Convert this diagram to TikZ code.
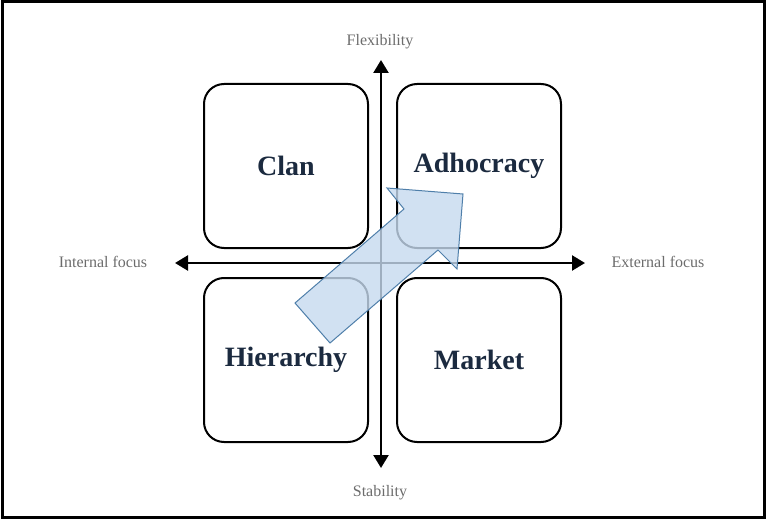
\documentclass[tikz,border=0pt]{standalone}
\usepackage{fontspec}
\setmainfont{Liberation Serif}
\usetikzlibrary{arrows.meta}
\definecolor{navy}{HTML}{1B2A3F}
\definecolor{fillb}{HTML}{C6DAEF}
\definecolor{edgeb}{HTML}{4F7FAA}
\begin{document}
\begin{tikzpicture}[x=1pt,y=-1pt,
  box/.style={draw=black,line width=2pt,rounded corners=20pt,minimum width=164pt,minimum height=164pt,fill=white,font=\bfseries\fontsize{28}{32}\selectfont,text=navy},
  axlab/.style={text=gray!85!black,font=\fontsize{16}{18}\selectfont},
  axis/.style={line width=2.5pt,-{Triangle[length=13pt,width=15pt]}}]
\useasboundingbox (0,0) rectangle (766,519);
\draw[line width=3pt] (2,2) rectangle (764,517);
\node[box] (clan) at (286,166) {Clan};
\node[box] (adho) at (479,166) {Adhocracy};
\node[box] (hier) at (286,360) {Hierarchy};
\node[box] (mark) at (479,360) {Market};
\coordinate (c) at (381,263);
\coordinate (top) at (381,60);
\coordinate (bot) at (381,468);
\coordinate (lft) at (175,263);
\coordinate (rgt) at (585,263);
\draw[white,line width=8pt] (top) -- (bot) (lft) -- (rgt);
\draw[axis] (c) -- (top);
\draw[axis] (c) -- (bot);
\draw[axis] (c) -- (lft);
\draw[axis] (c) -- (rgt);
\node[axlab] (flex) at (380,42) {Flexibility};
\node[axlab] (stab) at (380,493) {Stability};
\node[axlab] (intf) at (103,262) {Internal focus};
\node[axlab] (extf) at (658,262) {External focus};
\filldraw[fill=fillb,fill opacity=0.8,draw=edgeb,line width=1pt,line join=miter]
 (295,303) -- (330,343) -- (438,250) -- (457,269) -- (463,194) -- (387,188) -- (404,209) -- cycle;
\end{tikzpicture}
\end{document}
